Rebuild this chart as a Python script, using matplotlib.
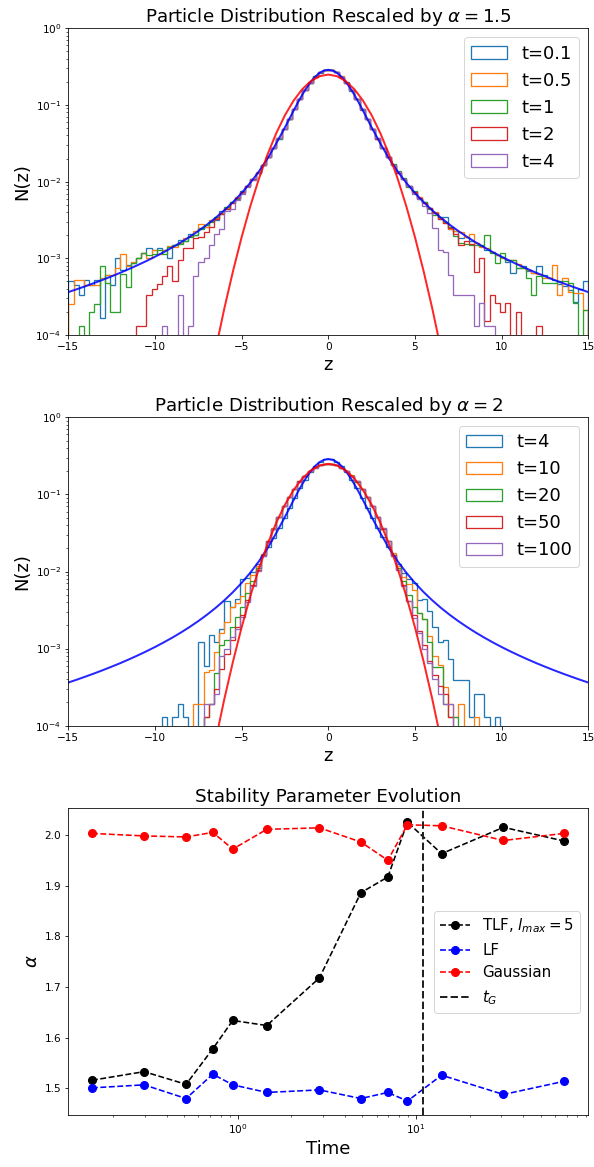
import numpy as np
import matplotlib
matplotlib.use("Agg")
import matplotlib.pyplot as plt

# ---------------- data ----------------
# theoretical curves
levy_z = [-15, -14.5, -14, -13.5, -13, -12.5, -12, -11.5, -11, -10.5, -10, -9.5, -9, -8.5,
          -8, -7.5, -7, -6.5, -6, -5.5, -5, -4.5, -4, -3.5, -3, -2.5, -2, -1.75, -1.5,
          -1.25, -1, -0.75, -0.5, -0.25, 0, 0.25, 0.5, 0.75, 1, 1.25, 1.5, 1.75, 2, 2.5,
          3, 3.5, 4, 4.5, 5, 5.5, 6, 6.5, 7, 7.5, 8, 8.5, 9, 9.5, 10, 10.5, 11, 11.5, 12,
          12.5, 13, 13.5, 14, 14.5, 15]
levy_n = [3.63e-4, 3.96e-4, 4.34e-4, 4.77e-4, 5.26e-4, 5.83e-4, 6.48e-4, 7.25e-4, 8.15e-4,
          9.21e-4, 1.048e-3, 1.201e-3, 1.388e-3, 1.618e-3, 1.907e-3, 2.273e-3, 2.748e-3,
          3.375e-3, 4.224e-3, 5.408e-3, 7.11e-3, 9.66e-3, 1.36e-2, 2.01e-2, 3.16e-2, 5.11e-2,
          8.45e-2, 0.108, 0.1361, 0.1681, 0.2020, 0.2347, 0.2624, 0.2808, 0.2874, 0.2808,
          0.2624, 0.2347, 0.2020, 0.1681, 0.1361, 0.108, 8.45e-2, 5.11e-2, 3.16e-2, 2.01e-2,
          1.36e-2, 9.66e-3, 7.11e-3, 5.408e-3, 4.224e-3, 3.375e-3, 2.748e-3, 2.273e-3,
          1.907e-3, 1.618e-3, 1.388e-3, 1.201e-3, 1.048e-3, 9.21e-4, 8.15e-4, 7.25e-4,
          6.48e-4, 5.83e-4, 5.26e-4, 4.77e-4, 4.34e-4, 3.96e-4, 3.63e-4]
gauss_z = [-7, -6.5, -6, -5.5, -5, -4.5, -4, -3.5, -3, -2.5, -2, -1.5, -1, -0.5, 0,
           0.5, 1, 1.5, 2, 2.5, 3, 3.5, 4, 4.5, 5, 5.5, 6, 6.5, 7]
gauss_n = [1.74e-5, 6.5e-5, 2.21e-4, 6.78e-4, 1.89e-3, 4.78e-3, 1.096e-2, 2.28e-2, 4.30e-2,
           7.36e-2, 0.1142, 0.1607, 0.2051, 0.2375, 0.2493, 0.2375, 0.2051, 0.1607, 0.1142,
           7.36e-2, 4.30e-2, 2.28e-2, 1.096e-2, 4.78e-3, 1.89e-3, 6.78e-4, 2.21e-4, 6.5e-5,
           1.74e-5]

# panel 1 histograms: bins of width 0.3 from -15 to 15
p1_labels = ["t=0.1", "t=0.5", "t=1", "t=2", "t=4"]
p1_t01 = [5.0e-4, 4.5e-4, 3.3e-4, 5.2e-4, 4.5e-4, 5.2e-4, 1.65e-4, 6.1e-4, 4.5e-4, 1.0e-3,
          7.1e-4, 8.2e-4, 8.6e-4, 1.0e-3, 1.16e-3, 1.35e-3, 1.29e-3, 1.35e-3, 1.29e-3, 1.0e-3,
          1.5e-3, 1.75e-3, 1.7e-3, 2.1e-3, 2.0e-3, 2.5e-3, 2.6e-3, 3.1e-3, 3.2e-3, 4.1e-3,
          4.4e-3, 5.4e-3, 6.1e-3, 7.5e-3, 8.7e-3, 1.08e-2, 1.30e-2, 1.66e-2, 2.08e-2, 2.78e-2,
          3.60e-2, 4.90e-2, 6.50e-2, 8.90e-2, 0.118, 0.156, 0.195, 0.236, 0.265, 0.284,
          0.286, 0.267, 0.234, 0.197, 0.154, 0.120, 0.087, 0.066, 0.0485, 0.0368,
          0.0274, 0.0212, 0.0163, 0.0132, 0.0108, 8.7e-3, 7.4e-3, 6.1e-3, 5.4e-3, 4.5e-3,
          3.9e-3, 3.5e-3, 3.5e-3, 2.4e-3, 2.3e-3, 1.85e-3, 1.9e-3, 1.7e-3, 1.6e-3, 1.45e-3,
          1.3e-3, 1.2e-3, 1.1e-3, 1.05e-3, 9.0e-4, 6.4e-4, 7.4e-4, 8.0e-4, 6.8e-4, 6.5e-4,
          8.0e-4, 6.0e-4, 5.5e-4, 5.2e-4, 4.6e-4, 4.4e-4, 3.9e-4, 2.7e-4, 4.0e-4, 5.0e-4]
p1_t05 = [2.5e-4, 5.2e-4, 5.2e-4, 4.5e-4, 4.5e-4, 4.5e-4, 5.5e-4, 6.1e-4, 6.1e-4, 7.5e-4,
          1.15e-3, 8.0e-4, 9.0e-4, 1.02e-3, 1.17e-3, 1.02e-3, 1.3e-3, 1.15e-3, 1.3e-3, 1.45e-3,
          1.4e-3, 1.6e-3, 1.85e-3, 1.95e-3, 2.3e-3, 2.8e-3, 2.6e-3, 3.2e-3, 3.4e-3, 3.9e-3,
          4.6e-3, 5.2e-3, 6.3e-3, 7.2e-3, 8.9e-3, 1.06e-2, 1.32e-2, 1.64e-2, 2.12e-2, 2.74e-2,
          3.67e-2, 4.85e-2, 6.60e-2, 8.75e-2, 0.119, 0.155, 0.197, 0.235, 0.267, 0.285,
          0.285, 0.266, 0.236, 0.195, 0.156, 0.118, 0.089, 0.0655, 0.049, 0.0362,
          0.0278, 0.0208, 0.0166, 0.0130, 0.0107, 8.9e-3, 7.2e-3, 6.3e-3, 5.2e-3, 4.6e-3,
          4.0e-3, 3.4e-3, 2.9e-3, 2.4e-3, 2.3e-3, 2.2e-3, 1.9e-3, 2.1e-3, 1.6e-3, 1.4e-3,
          1.35e-3, 1.2e-3, 1.1e-3, 1.0e-3, 9.5e-4, 9.5e-4, 8.5e-4, 7.5e-4, 7.0e-4, 6.5e-4,
          6.3e-4, 5.6e-4, 5.6e-4, 8.2e-4, 3.3e-4, 5.5e-4, 3.6e-4, 3.5e-4, 3.5e-4, 2.1e-4]
p1_t1 = [0, 0, 1.3e-4, 0, 2.0e-4, 2.5e-4, 8.0e-4, 4.7e-4, 2.0e-4, 2.0e-4,
         6.2e-4, 4.2e-4, 8.6e-4, 1.0e-3, 1.19e-3, 1.1e-3, 1.15e-3, 1.3e-3, 1.15e-3, 1.4e-3,
         1.5e-3, 1.55e-3, 1.7e-3, 1.9e-3, 2.0e-3, 2.4e-3, 2.7e-3, 3.0e-3, 3.5e-3, 3.8e-3,
         4.7e-3, 5.4e-3, 6.0e-3, 7.4e-3, 8.8e-3, 1.09e-2, 1.29e-2, 1.67e-2, 2.08e-2, 2.78e-2,
         3.63e-2, 4.90e-2, 6.55e-2, 8.85e-2, 0.118, 0.156, 0.195, 0.236, 0.266, 0.286,
         0.284, 0.266, 0.235, 0.196, 0.155, 0.119, 0.088, 0.066, 0.0488, 0.0364,
         0.0276, 0.0211, 0.0168, 0.0138, 0.0112, 8.5e-3, 7.5e-3, 6.0e-3, 5.4e-3, 4.4e-3,
         3.7e-3, 3.3e-3, 3.0e-3, 2.6e-3, 1.95e-3, 1.6e-3, 1.55e-3, 1.5e-3, 1.5e-3, 1.5e-3,
         2.0e-3, 1.16e-3, 8.6e-4, 1.16e-3, 9.5e-4, 9.5e-4, 7.4e-4, 7.4e-4, 5.5e-4, 3.3e-4,
         5.8e-4, 4.7e-4, 4.7e-4, 4.7e-4, 5.0e-4, 5.0e-4, 4.7e-4, 2.6e-4, 0, 2.1e-4]
p1_t2 = [0, 0, 0, 0, 0, 0, 0, 0, 0, 0,
         0, 0, 0, 1.3e-4, 1.3e-4, 3.3e-4, 4.0e-4, 4.6e-4, 5.8e-4, 7.9e-4,
         5.0e-4, 9.5e-4, 1.35e-3, 1.35e-3, 1.85e-3, 1.9e-3, 2.2e-3, 2.6e-3, 3.3e-3, 3.8e-3,
         4.4e-3, 5.2e-3, 6.1e-3, 7.3e-3, 8.7e-3, 1.07e-2, 1.31e-2, 1.65e-2, 2.10e-2, 2.75e-2,
         3.66e-2, 4.88e-2, 6.60e-2, 8.80e-2, 0.119, 0.155, 0.196, 0.235, 0.266, 0.285,
         0.285, 0.266, 0.235, 0.196, 0.155, 0.119, 0.088, 0.066, 0.0487, 0.0365,
         0.0276, 0.0210, 0.0165, 0.0131, 0.0107, 8.8e-3, 7.3e-3, 6.2e-3, 5.2e-3, 4.5e-3,
         3.9e-3, 3.3e-3, 2.9e-3, 2.5e-3, 2.1e-3, 1.5e-3, 1.7e-3, 1.55e-3, 6.7e-4, 1.0e-3,
         1.5e-4, 3.3e-4, 2.6e-4, 2.0e-4, 2.6e-4, 0, 2.0e-4, 0, 0, 0,
         1.3e-4, 0, 0, 0, 0, 0, 0, 0, 0, 0]
p1_t4 = [0, 0, 0, 0, 0, 0, 0, 0, 0, 0,
         0, 0, 0, 0, 0, 0, 0, 0, 1.3e-4, 0,
         0, 3.3e-4, 0, 1.3e-4, 5.8e-4, 9.0e-4, 1.0e-3, 1.5e-3, 2.1e-3, 2.4e-3,
         4.2e-3, 4.4e-3, 5.7e-3, 7.0e-3, 8.6e-3, 1.06e-2, 1.30e-2, 1.64e-2, 2.10e-2, 2.77e-2,
         3.66e-2, 4.88e-2, 6.60e-2, 8.80e-2, 0.119, 0.155, 0.196, 0.235, 0.266, 0.286,
         0.286, 0.266, 0.235, 0.196, 0.155, 0.119, 0.088, 0.066, 0.0488, 0.0366,
         0.0277, 0.0211, 0.0166, 0.0132, 0.0108, 8.8e-3, 7.0e-3, 6.0e-3, 4.8e-3, 3.9e-3,
         2.5e-3, 1.3e-3, 1.2e-3, 6.0e-4, 3.3e-4, 3.3e-4, 3.3e-4, 3.3e-4, 1.3e-4, 2.6e-4,
         1.3e-4, 1.3e-4, 0, 0, 0, 0, 0, 0, 0, 0,
         0, 0, 0, 0, 0, 0, 0, 0, 0, 0]

# panel 2 histograms: bins of width 0.3 from -10.2 to 10.2
p2_labels = ["t=4", "t=10", "t=20", "t=50", "t=100"]
p2_t4 = [0, 0, 1.3e-4, 0, 1.3e-4, 1.9e-4, 1.3e-4, 0, 0, 1.2e-3,
         5.9e-4, 1.5e-3, 1.2e-3, 1.8e-3, 4.1e-3, 3.5e-3, 4.4e-3, 7.9e-3, 8.3e-3, 9.8e-3,
         0.0125, 0.0160, 0.0208, 0.0275, 0.0365, 0.049, 0.066, 0.089, 0.120, 0.156,
         0.197, 0.236, 0.266, 0.285,
         0.284, 0.265, 0.235, 0.196, 0.156, 0.120, 0.089, 0.066, 0.049, 0.037,
         0.028, 0.021, 0.016, 0.0125, 0.0095, 0.0080, 0.0071, 0.0043, 0.0044, 0.0031,
         0.0019, 0.0012, 0.0013, 7.3e-4, 3.9e-4, 3.9e-4, 3.9e-4, 1.3e-4, 2.6e-4, 2.6e-4,
         1.3e-4, 0, 1.3e-4, 0]
p2_t10 = [0, 0, 0, 0, 0, 0, 0, 0, 1.9e-4, 1.9e-4,
          5.0e-4, 5.3e-4, 9.0e-4, 1.6e-3, 2.2e-3, 3.5e-3, 3.9e-3, 4.8e-3, 7.0e-3, 9.0e-3,
          0.0118, 0.0170, 0.0250, 0.0362, 0.0510, 0.0700, 0.0925, 0.118, 0.146, 0.174,
          0.201, 0.224, 0.241, 0.250,
          0.249, 0.240, 0.223, 0.200, 0.176, 0.147, 0.119, 0.093, 0.071, 0.051,
          0.0365, 0.0252, 0.0172, 0.0117, 0.0085, 0.0068, 5.7e-3, 2.9e-3, 2.4e-3, 1.45e-3,
          7.9e-4, 6.2e-4, 3.2e-4, 1.9e-4, 1.3e-4, 1.9e-4, 0, 0, 1.3e-4, 0,
          0, 0, 0, 0]
p2_t20 = [0, 0, 0, 0, 0, 0, 0, 0, 0, 0,
          1.3e-4, 1.9e-4, 4.8e-4, 1.1e-3, 1.3e-3, 1.9e-3, 2.6e-3, 3.5e-3, 5.2e-3, 7.5e-3,
          0.0110, 0.0165, 0.0245, 0.0360, 0.0505, 0.0705, 0.0930, 0.119, 0.147, 0.175,
          0.201, 0.223, 0.240, 0.249,
          0.248, 0.241, 0.222, 0.201, 0.175, 0.146, 0.119, 0.093, 0.070, 0.051,
          0.036, 0.0248, 0.0165, 0.0110, 0.0075, 0.0050, 0.0035, 2.9e-3, 2.4e-3, 1.2e-3,
          5.8e-4, 5.8e-4, 1.9e-4, 1.3e-4, 1.3e-4, 0, 0, 0, 0, 0,
          0, 0, 0, 0]
p2_t50 = [0, 0, 0, 0, 0, 0, 0, 0, 0, 0,
          1.3e-4, 1.9e-4, 3.0e-4, 5.5e-4, 8.5e-4, 1.3e-3, 1.9e-3, 2.7e-3, 4.3e-3, 6.6e-3,
          0.0105, 0.0162, 0.0246, 0.0358, 0.0512, 0.0698, 0.0932, 0.118, 0.147, 0.175,
          0.200, 0.224, 0.240, 0.248,
          0.249, 0.240, 0.223, 0.201, 0.174, 0.147, 0.118, 0.093, 0.070, 0.051,
          0.036, 0.0246, 0.0162, 0.0104, 0.0066, 0.0042, 0.0027, 1.7e-3, 1.1e-3, 7.0e-4,
          4.5e-4, 3.3e-4, 2.6e-4, 1.3e-4, 0, 0, 0, 0, 0, 0,
          0, 0, 0, 0]
p2_t100 = [0, 0, 0, 0, 0, 0, 0, 0, 0, 0,
           1.9e-4, 1.9e-4, 2.6e-4, 7.9e-4, 1.0e-3, 1.4e-3, 1.8e-3, 2.6e-3, 4.0e-3, 6.4e-3,
           0.0103, 0.0160, 0.0244, 0.0360, 0.0508, 0.0702, 0.0926, 0.119, 0.146, 0.175,
           0.201, 0.223, 0.241, 0.248,
           0.248, 0.241, 0.223, 0.200, 0.175, 0.147, 0.118, 0.093, 0.070, 0.051,
           0.0362, 0.0245, 0.0161, 0.0104, 0.0065, 0.0041, 0.0025, 1.6e-3, 1.0e-3, 6.5e-4,
           4.0e-4, 2.6e-4, 1.9e-4, 1.9e-4, 0, 0, 0, 0, 0, 0,
           0, 0, 0, 0]

# panel 3: stability parameter
times = [0.152, 0.298, 0.513, 0.724, 0.937, 1.454, 2.87, 4.90, 6.94, 8.94, 13.9, 30.9, 67.6]
alpha_tlf = [1.516, 1.533, 1.508, 1.578, 1.634, 1.624, 1.718, 1.886, 1.917, 2.025, 1.963,
             2.015, 1.988]
alpha_lf = [1.501, 1.507, 1.480, 1.528, 1.507, 1.492, 1.497, 1.480, 1.492, 1.475, 1.526,
            1.488, 1.514]
alpha_gauss = [2.003, 1.998, 1.996, 2.005, 1.972, 2.011, 2.014, 1.986, 1.950, 2.020, 2.018,
               1.989, 2.003]
t_G = 11.0

# ---------------- figure ----------------
W, H = 594, 1167
fig = plt.figure(figsize=(W / 72, H / 72), dpi=72)

ax1 = fig.add_axes([68.3 / W, 1 - 335.0 / H, 520 / W, 306.7 / H])
ax2 = fig.add_axes([68.3 / W, 1 - 725.7 / H, 520 / W, 308.4 / H])
ax3 = fig.add_axes([68.3 / W, 1 - 1115.0 / H, 519.4 / W, 306.7 / H])

TICK = 10.5
TITLE = 18.2
LAB = 18
LEG = 18


def hist_panel(ax, edges, series, labels, title):
    edges = np.asarray(edges)
    centers = 0.5 * (edges[:-1] + edges[1:])
    for i, (vals, lab) in enumerate(zip(series, labels)):
        ax.hist(centers, bins=edges, weights=vals, histtype="step", color="C%d" % i,
                linewidth=1.3, label=lab)
    ax.plot(levy_z, levy_n, color="blue", lw=2.0, alpha=0.85)
    ax.plot(gauss_z, gauss_n, color="red", lw=2.0, alpha=0.85)
    ax.set_yscale("log")
    ax.set_xlim(-15, 15)
    ax.set_ylim(1e-4, 1)
    ax.set_xlabel("z", fontsize=LAB)
    ax.set_ylabel("N(z)", fontsize=LAB)
    ax.set_title(title, fontsize=TITLE)
    ax.tick_params(labelsize=TICK)
    ax.legend(loc="upper right", fontsize=LEG)


p1_edges = np.linspace(-15, 15, 101)
p2_edges = np.linspace(-10.2, 10.2, 69)
hist_panel(ax1, p1_edges, [p1_t01, p1_t05, p1_t1, p1_t2, p1_t4], p1_labels,
           r"Particle Distribution Rescaled by $\alpha = 1.5$")
hist_panel(ax2, p2_edges, [p2_t4, p2_t10, p2_t20, p2_t50, p2_t100], p2_labels,
           r"Particle Distribution Rescaled by $\alpha = 2$")

ax3.plot(times, alpha_tlf, "k--o", lw=1.6, ms=8, label=r"TLF, $l_{max} = 5$")
ax3.plot(times, alpha_lf, "b--o", lw=1.6, ms=8, label="LF")
ax3.plot(times, alpha_gauss, "r--o", lw=1.6, ms=8, label="Gaussian")
ax3.axvline(t_G, color="#222222", ls="--", lw=2.0, label=r"$t_G$")
ax3.set_xscale("log")
ax3.set_title("Stability Parameter Evolution", fontsize=TITLE)
ax3.set_xlabel("Time", fontsize=LAB)
ax3.set_ylabel(r"$\alpha$", fontsize=LAB)
ax3.tick_params(labelsize=TICK)
ax3.legend(loc="center right", fontsize=15)

fig.savefig("out.png", dpi=72)
